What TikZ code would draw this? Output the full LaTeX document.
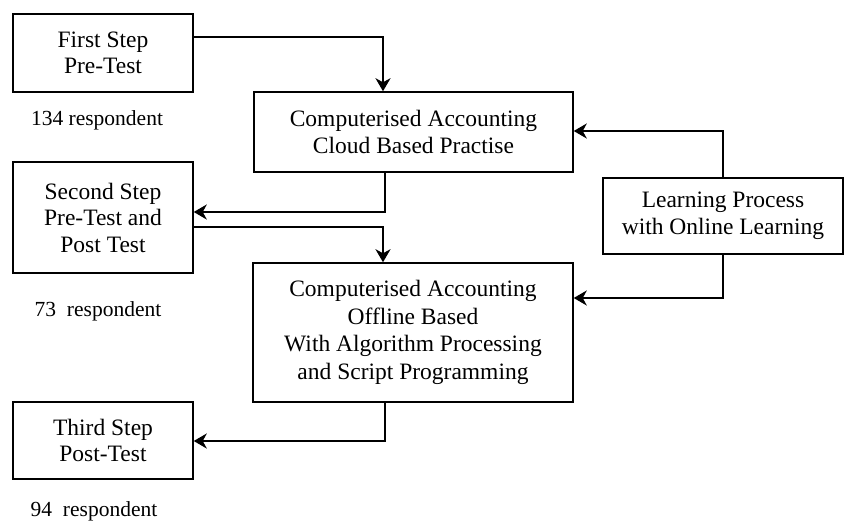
\documentclass[tikz,border=0pt]{standalone}
\usepackage{fontspec}
\setmainfont{Liberation Serif}
\usetikzlibrary{arrows.meta}
\begin{document}
\begin{tikzpicture}[x=1pt,y=-1pt,
  box/.style={draw=black,line width=1.5pt,inner sep=0pt,align=center,
    font=\fontsize{23.5}{26.5}\selectfont},
  lbl/.style={inner sep=0pt,font=\fontsize{21.5}{24}\selectfont},
  conn/.style={line width=2pt,-{Stealth[length=13pt,width=15pt,inset=4pt]}}]
\useasboundingbox (0,0) rectangle (844,522);
\node[box,minimum width=180,minimum height=78] (first) at (103,53) {First Step\\Pre-Test};
\node[box,minimum width=319,minimum height=80] (cloud) at (413.5,132) {Computerised Accounting\\Cloud Based Practise};
\node[box,minimum width=180,minimum height=111] (second) at (103,217.5) {Second Step\\Pre-Test and\\Post Test};
\node[box,minimum width=320,minimum height=139,font=\fontsize{23.5}{27.5}\selectfont] (offline) at (413,332.5) {Computerised Accounting\\Offline Based\\With Algorithm Processing\\and Script Programming};
\node[box,minimum width=180,minimum height=77] (third) at (103,440.5) {Third Step\\Post-Test};
\node[box,minimum width=240,minimum height=76] (learn) at (723,216) {Learning Process\\with Online Learning};
\node[lbl] (r1) at (97,120) {134 respondent};
\node[lbl] (r2) at (98,311) {73\ \ respondent};
\node[lbl] (r3) at (94,511) {94\ \ respondent};
\coordinate (a1) at (383,37);
\coordinate (a2) at (385,212);
\coordinate (a3) at (383,227);
\coordinate (a4) at (385,441);
\coordinate (a5) at (723,131);
\coordinate (a6) at (723,298);
\draw[conn] (first.east |- a1) -- (a1) -- (a1 |- cloud.north);
\draw[conn] (a2 |- cloud.south) -- (a2) -- (a2 -| second.east);
\draw[conn] (second.east |- a3) -- (a3) -- (a3 |- offline.north);
\draw[conn] (a4 |- offline.south) -- (a4) -- (a4 -| third.east);
\draw[conn] (learn.north) -- (a5) -- (a5 -| cloud.east);
\draw[conn] (learn.south) -- (a6) -- (a6 -| offline.east);
\end{tikzpicture}
\end{document}
